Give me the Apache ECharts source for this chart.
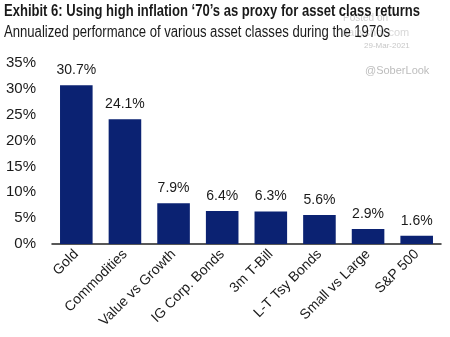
<!DOCTYPE html>
<html><head><meta charset="utf-8">
<script src="https://cdn.jsdelivr.net/npm/echarts@6/dist/echarts.min.js"></script>
<style>html,body{margin:0;padding:0;background:#fff}#c{width:450px;height:337px}</style>
</head><body><div id="c"></div>
<script>
const categories = ["Gold","Commodities","Value vs Growth","IG Corp. Bonds","3m T-Bill","L-T Tsy Bonds","Small vs Large","S&P 500"];
const values = [30.7, 24.1, 7.9, 6.4, 6.3, 5.6, 2.9, 1.6];
const yTicks = [0, 5, 10, 15, 20, 25, 30, 35];
const titleText = "Exhibit 6: Using high inflation \u201870\u2019s as proxy for asset class returns";
const subtitleText = "Annualized performance of various asset classes during the 1970s";

const fam = '"Liberation Sans", Arial, sans-serif';
const titleFont = 'bold 16px ' + fam;
const subFont = '16px ' + fam;
const ctx = document.createElement('canvas').getContext('2d');
function fitScale(text, font, target) { ctx.font = font; return target / ctx.measureText(text).width; }
const titleScale = fitScale(titleText, titleFont, 416);
const subScale = fitScale(subtitleText, subFont, 386);

const chart = echarts.init(document.getElementById('c'), null, {renderer:'canvas'});
chart.setOption({
  animation: false,
  graphic: [
    {type:'text', x: 343, y: 13, z: 0, style:{text:'Posted on', fill:'#d0d0d0', font:'10px ' + fam}},
    {type:'text', x: 342, y: 27, z: 0, style:{text:'dailyshot.com', fill:'#d8d8d8', font:'11px ' + fam}},
    {type:'text', x: 364, y: 42, z: 0, style:{text:'29-Mar-2021', fill:'#c8c8c8', font:'8px ' + fam}},
    {type:'text', x: 365, y: 65, z: 0, style:{text:'@SoberLook', fill:'#bdbdbd', font:'11px ' + fam}},
    {type:'text', x: 4, y: 4, z: 10, scaleX: titleScale, style:{text: titleText, fill:'#1a1a1a', font: titleFont}},
    {type:'text', x: 4, y: 25, z: 10, scaleX: subScale, style:{text: subtitleText, fill:'#1a1a1a', font: subFont}}
  ],
  grid: {left: 52, right: 9, top: 63, bottom: 93, containLabel: false},
  xAxis: {
    type: 'category', data: categories,
    axisLine: {show: true, lineStyle: {color: '#222', width: 1.5}},
    axisTick: {show: false},
    axisLabel: {rotate: 45, interval: 0, margin: 8, fontSize: 14, color: '#1a1a1a', fontFamily: fam}
  },
  yAxis: {
    type: 'value', min: yTicks[0], max: yTicks[yTicks.length-1], interval: 5,
    axisLine: {show: false}, axisTick: {show: false}, splitLine: {show: false},
    axisLabel: {formatter: v => v + '%', fontSize: 15, color: '#1a1a1a', margin: 16, fontFamily: fam}
  },
  series: [{
    type: 'bar', data: values, barWidth: '67%',
    itemStyle: {color: '#0b2272'},
    label: {show: true, position: 'top', distance: 8, formatter: p => p.value.toFixed(1) + '%', fontSize: 14, color: '#1a1a1a', fontFamily: fam}
  }]
});
</script></body></html>
